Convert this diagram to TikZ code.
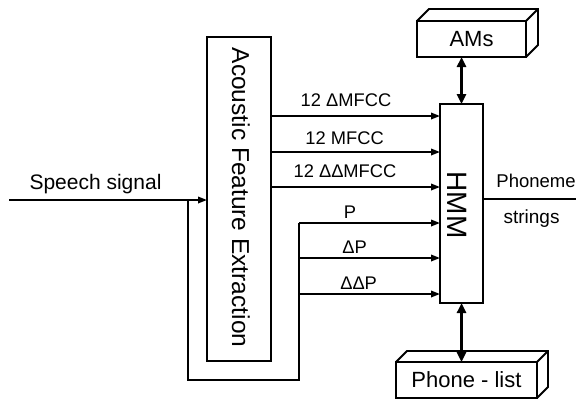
\documentclass[tikz,border=0pt]{standalone}
\usepackage{fontspec}
\setmainfont{Liberation Sans}
\usetikzlibrary{arrows.meta}
\begin{document}
\begin{tikzpicture}[x=1pt,y=-1pt, line width=1.9pt, line join=miter,
  box/.style={draw, rectangle, inner sep=0pt, outer sep=0pt},
  arr/.style={-{Triangle[length=9pt,width=6.5pt]}},
  darr/.style={{Triangle[length=10pt,width=9pt]}-{Triangle[length=10pt,width=9pt]}, line width=2.4pt},
  lbl/.style={font=\fontsize{18.3}{20}\selectfont, anchor=base, inner sep=0pt},
  txt/.style={inner sep=0pt}]
\useasboundingbox (0,0) rectangle (576,400);
% boxes
\node[box, minimum width=64pt, minimum height=324pt] (afe) at (239,199) {};
\node[box, minimum width=43pt, minimum height=199pt] (hmm) at (461.5,203.5) {};
\node[box, minimum width=109pt, minimum height=36pt, font=\fontsize{22}{24}\selectfont] (ams) at (471.5,39) {AMs};
\node[box, minimum width=141pt, minimum height=36pt, font=\fontsize{22}{24}\selectfont] (plist) at (466.5,380) {Phone - list};
% 3D extrusions
\draw (ams.north west) -- ++(12,-12) -- ++(109,0) -- ++(0,36) -- (ams.south east);
\draw (ams.north east) -- ++(12,-12);
\draw (plist.north west) -- ++(11,-11) -- ++(141,0) -- ++(0,36) -- (plist.south east);
\draw (plist.north east) -- ++(11,-11);
% rotated texts
\node[txt, rotate=-90, anchor=base, font=\fontsize{24.5}{26}\selectfont] (afet) at (232,197.5) {Acoustic Feature Extraction};
\node[txt, rotate=-90, anchor=base, font=\fontsize{28}{30}\selectfont] (hmmt) at (447.5,205) {HMM};
% coordinates
\coordinate (in) at (9,200);
\coordinate (j) at (188,200);
\coordinate (lb) at (188,380);
\coordinate (rb) at (299,380);
\coordinate (k1) at (299,223);
\coordinate (k2) at (299,258);
\coordinate (k3) at (299,294);
\coordinate (y1) at (0,116);
\coordinate (y2) at (0,152);
\coordinate (y3) at (0,187);
\coordinate (out) at (576,199);
% connectors
\draw[arr] (in) -- (afe.west |- in);
\draw (j) -- (lb) -- (rb) -- (k1);
\draw[arr] (afe.east |- y1) -- (hmm.west |- y1);
\draw[arr] (afe.east |- y2) -- (hmm.west |- y2);
\draw[arr] (afe.east |- y3) -- (hmm.west |- y3);
\draw[arr] (k1) -- (hmm.west |- k1);
\draw[arr] (k2) -- (hmm.west |- k2);
\draw[arr] (k3) -- (hmm.west |- k3);
\draw (hmm.east |- out) -- (out);
\draw[darr] (hmm.north) -- (hmm.north |- ams.south);
\draw[darr] (hmm.south) -- (hmm.south |- plist.north);
% labels
\node[lbl] (l1) at (346,106) {12 ΔMFCC};
\node[lbl] (l2) at (344.6,144) {12 MFCC};
\node[lbl] (l3) at (345,177) {12 ΔΔMFCC};
\node[lbl] (l4) at (350,218) {P};
\node[lbl] (l5) at (354.5,253) {ΔP};
\node[lbl] (l6) at (358.6,289) {ΔΔP};
\node[txt, anchor=base, font=\fontsize{21}{23}\selectfont] (sp) at (95.5,189) {Speech signal};
\node[txt, anchor=base west, font=\fontsize{18.5}{21}\selectfont] (ph) at (495.5,187) {Phoneme};
\node[txt, anchor=base west, font=\fontsize{19}{21}\selectfont] (st) at (502.6,223) {strings};
\end{tikzpicture}
\end{document}
